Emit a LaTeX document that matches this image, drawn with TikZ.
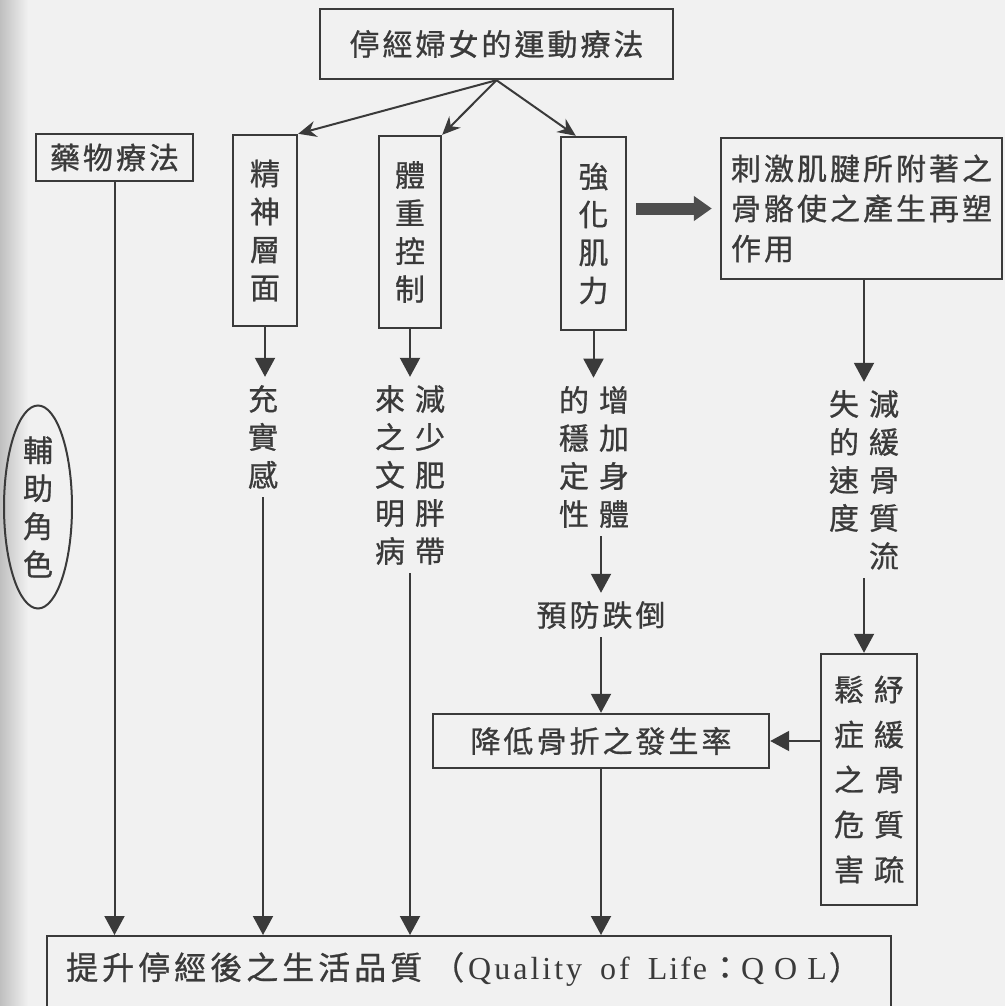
\documentclass[tikz,border=0pt]{standalone}
\usepackage{fontspec}
\setmainfont{Liberation Serif}
\newfontfamily\cjk[FakeBold=0.8]{Noto Sans CJK TC}
\usetikzlibrary{arrows.meta,shapes.geometric}
\definecolor{ink}{HTML}{3A3A3A}
\definecolor{paper}{HTML}{F1F1F1}
\makeatletter
\newcommand\spreadtext[2]{\@tfor\st@c:=#2\do{\st@c\hspace{#1}}\unskip}
\makeatother
\newcommand\twocol[2]{#1\hspace{5pt}#2}

\begin{document}
\begin{tikzpicture}[x=0.5pt,y=-0.5pt,
    every node/.style={text=ink,font=\cjk\fontsize{15pt}{19pt}\selectfont},
    box/.style={draw=ink,line width=1.2pt,inner sep=0pt,align=center},
    vtext/.style={inner sep=4pt,align=center},
    arr/.style={draw=ink,line width=1pt,-{Triangle[length=9.5pt,width=10pt]}},
    fork/.style={draw=ink,line width=1pt,-{Stealth[length=9pt,width=8pt]}},
    bigarr/.style={draw=ink!90,line width=6pt,-{Triangle[length=9pt,width=12pt]},
      shorten <=4.5pt,shorten >=4pt}]
  \fill[paper] (0,0) rectangle (1005,1006);
  \shade[left color=black!25,right color=paper] (0,0) rectangle (28,1006);
  \useasboundingbox (0,0) rectangle (1005,1006);
  \clip (0,0) rectangle (1005,1006);

  \node[box,minimum width=176.5pt,minimum height=35pt] (top) at (496.5,44) {\spreadtext{1.5pt}{停經婦女的運動療法}};
  \node[box,minimum width=78.5pt,minimum height=23.5pt] (drug) at (114.5,157.5) {\spreadtext{1.5pt}{藥物療法}};
  \node[box,minimum width=32pt,minimum height=95.5pt] (mind) at (265,230.5) {精\\神\\層\\面};
  \node[box,minimum width=31pt,minimum height=96pt] (weight) at (410,232) {體\\重\\控\\制};
  \node[box,minimum width=32.5pt,minimum height=96.5pt] (muscle) at (593.5,233.5) {強\\化\\肌\\力};
  \node[box,align=left,minimum width=140.5pt,minimum height=70.5pt,
    font=\cjk\fontsize{15pt}{20pt}\selectfont] (remodel) at (861.5,208.5)
    {\spreadtext{1.5pt}{刺激肌腱所附著之}\\\spreadtext{1.5pt}{骨骼使之產生再塑}\\\spreadtext{1.5pt}{作用}};

  \node[vtext] (fullness) at (263,437) {充\\實\\感};
  \node[vtext] (obesity) at (410,475) {\twocol{來}{減}\\\twocol{之}{少}\\\twocol{文}{肥}\\\twocol{明}{胖}\\\twocol{病}{帶}};
  \node[vtext] (stable) at (594,457) {\twocol{的}{增}\\\twocol{穩}{加}\\\twocol{定}{身}\\\twocol{性}{體}};
  \node[vtext] (fall) at (601,615) {\spreadtext{1.5pt}{預防跌倒}};
  \node[vtext] (boneloss) at (864,480) {\twocol{失}{減}\\\twocol{的}{緩}\\\twocol{速}{骨}\\\twocol{度}{質}\\\twocol{\phantom{失}}{流}};
  \node[ellipse,draw=ink,line width=1pt,minimum width=34pt,minimum height=101.5pt,
    inner sep=0pt,align=center] (aux) at (38,507) {輔\\助\\角\\色};

  \node[box,minimum width=168pt,minimum height=27pt] (fracture) at (601,741) {\spreadtext{1.5pt}{降低骨折之發生率}};
  \node[box,minimum width=48pt,minimum height=125.5pt,
    font=\cjk\fontsize{15pt}{22.5pt}\selectfont] (ease) at (869,779.5)
    {\twocol{鬆}{紓}\\\twocol{症}{緩}\\\twocol{之}{骨}\\\twocol{危}{質}\\\twocol{害}{疏}};
  \node[box,anchor=north west,minimum height=42.5pt,inner xsep=9.5pt,text width=403pt,align=left,
    font=\cjk\fontsize{16pt}{19pt}\selectfont] (qol) at (46,935)
    {\raisebox{4.75pt}[\height][\depth]{\spreadtext{2pt}{提升停經後之生活品質}\hspace{5pt}（\hspace{2pt}{\rmfamily\fontsize{16pt}{19pt}\selectfont
    \spreadtext{1.5pt}{Quality}\hspace{9pt}\spreadtext{1.5pt}{of}\hspace{9pt}\spreadtext{1pt}{Life}}\hspace{1pt}：{\rmfamily\fontsize{16pt}{19pt}\selectfont\spreadtext{5pt}{QOL}}\hspace{1pt}）}};

  \draw[fork] (top.south) -- (mind.north east);
  \draw[fork] (top.south) -- (weight.north east);
  \draw[fork] (top.south) -- ([xshift=8pt]muscle.north west);
  \draw[bigarr] (muscle.east |- remodel.west) -- (remodel.west);

  \draw[arr] (drug.south) -- (drug.south |- qol.north);
  \draw[arr] (mind.south) -- (mind.south |- fullness.north);
  \draw[arr] (fullness.south) -- (fullness.south |- qol.north);
  \draw[arr] (weight.south) -- (weight.south |- obesity.north);
  \draw[arr] (obesity.south) -- (obesity.south |- qol.north);
  \draw[arr] (muscle.south) -- (muscle.south |- stable.north);
  \draw[arr] (fall.north |- stable.south) -- (fall.north);
  \draw[arr] (fall.south) -- (fall.south |- fracture.north);
  \draw[arr] (fracture.south) -- (fracture.south |- qol.north);
  \draw[arr] (boneloss.north |- remodel.south) -- (boneloss.north);
  \draw[arr] (boneloss.south) -- (boneloss.south |- ease.north);
  \draw[arr] (ease.west |- fracture.east) -- (fracture.east);
\end{tikzpicture}
\end{document}
